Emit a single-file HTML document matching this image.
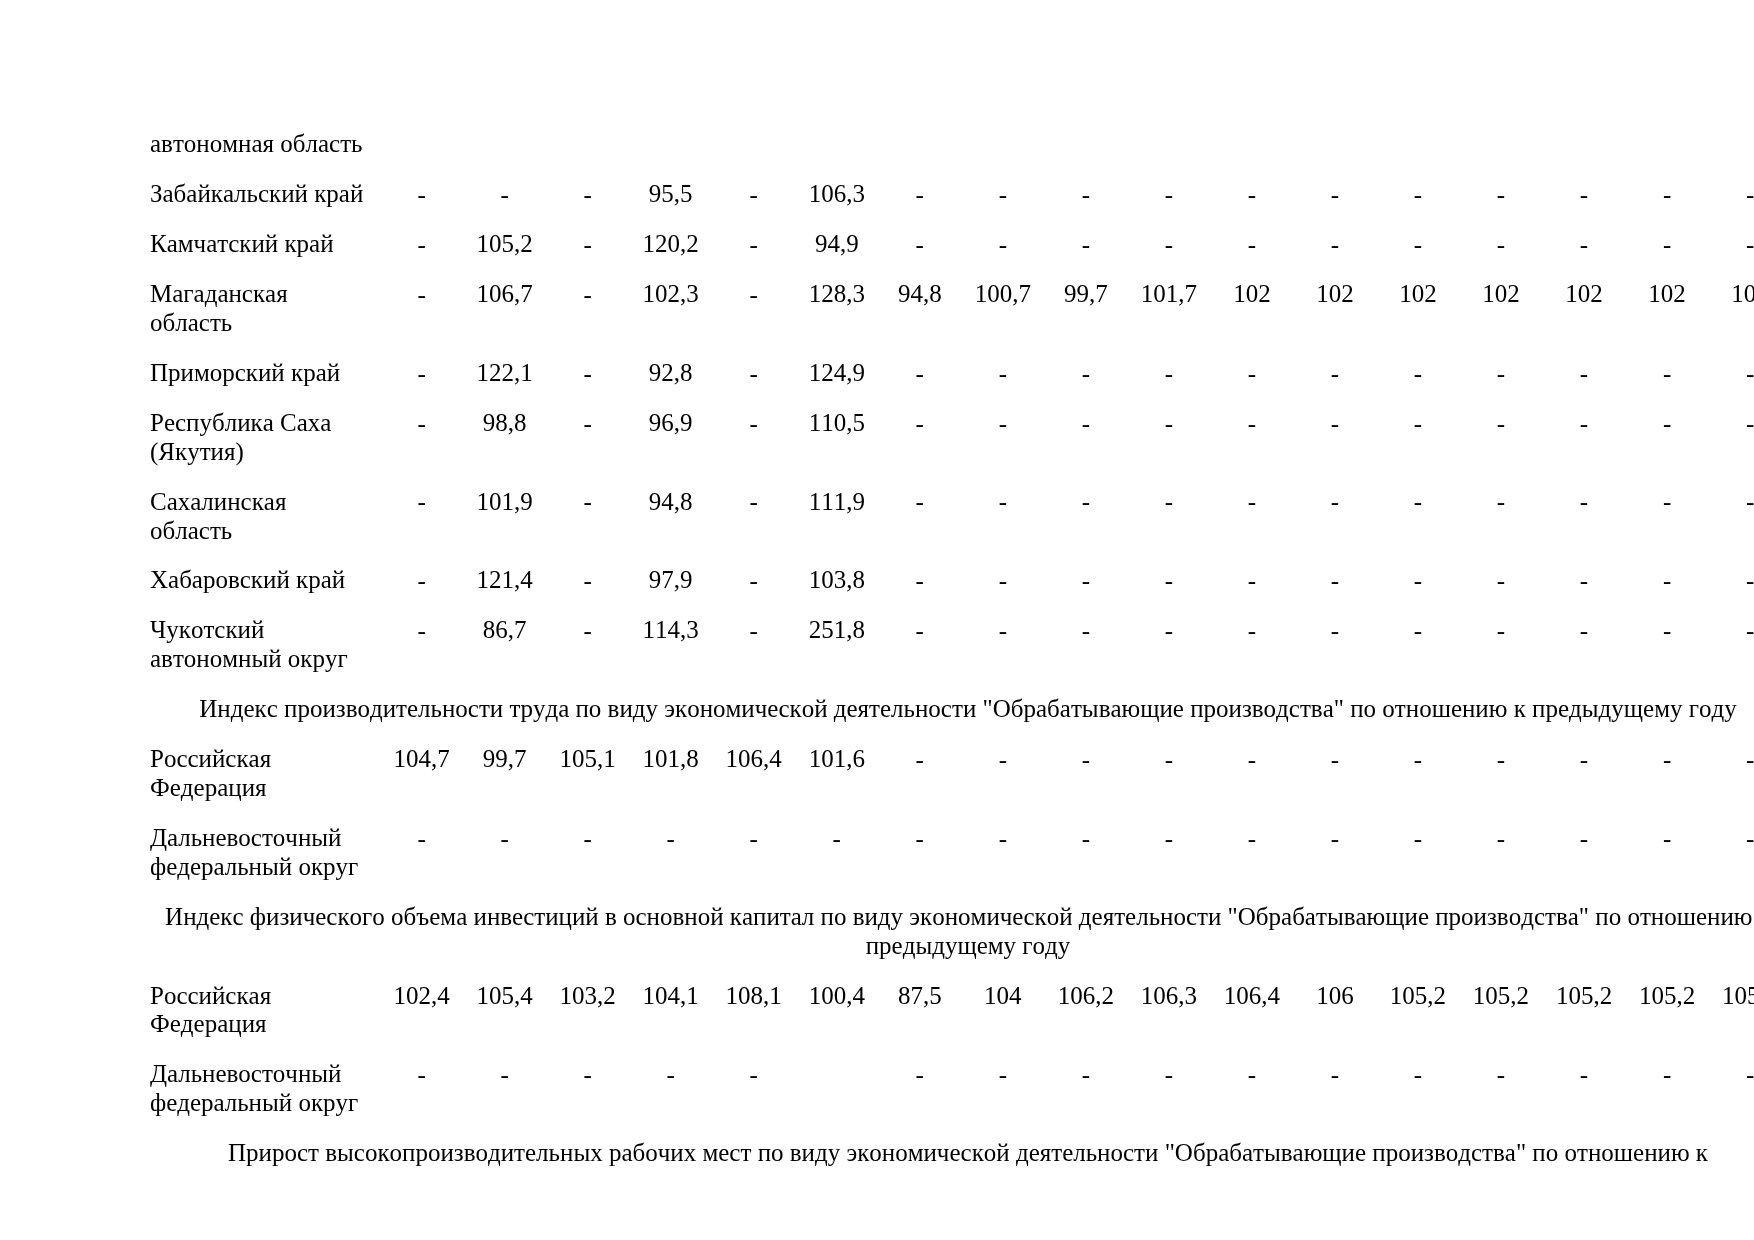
<!DOCTYPE html>
<html><head><meta charset="utf-8"><style>
html,body{margin:0;padding:0;background:#fff;}
body{width:1754px;height:1240px;position:relative;overflow:hidden;}
#w{position:absolute;left:0;top:0;width:1754px;height:1240px;will-change:transform;}
.t{position:absolute;font-family:"Liberation Serif",serif;font-size:25px;line-height:28.9px;white-space:nowrap;color:#000;font-kerning:none;}
.c{text-align:center;width:100px;}
.h{text-align:center;width:2000px;}
</style></head><body><div id="w">
<div class="t" style="left:150.0px;top:130.29px">автономная область</div>
<div class="t" style="left:150.0px;top:180.21px">Забайкальский край</div>
<div class="t c" style="left:371.60px;top:181.01px">-</div>
<div class="t c" style="left:454.63px;top:181.01px">-</div>
<div class="t c" style="left:537.66px;top:181.01px">-</div>
<div class="t c" style="left:620.69px;top:180.21px">95,5</div>
<div class="t c" style="left:703.72px;top:181.01px">-</div>
<div class="t c" style="left:786.75px;top:180.21px">106,3</div>
<div class="t c" style="left:869.78px;top:181.01px">-</div>
<div class="t c" style="left:952.81px;top:181.01px">-</div>
<div class="t c" style="left:1035.84px;top:181.01px">-</div>
<div class="t c" style="left:1118.87px;top:181.01px">-</div>
<div class="t c" style="left:1201.90px;top:181.01px">-</div>
<div class="t c" style="left:1284.93px;top:181.01px">-</div>
<div class="t c" style="left:1367.96px;top:181.01px">-</div>
<div class="t c" style="left:1450.99px;top:181.01px">-</div>
<div class="t c" style="left:1534.02px;top:181.01px">-</div>
<div class="t c" style="left:1617.05px;top:181.01px">-</div>
<div class="t c" style="left:1700.08px;top:181.01px">-</div>
<div class="t" style="left:150.0px;top:230.13px">Камчатский край</div>
<div class="t c" style="left:371.60px;top:230.93px">-</div>
<div class="t c" style="left:454.63px;top:230.13px">105,2</div>
<div class="t c" style="left:537.66px;top:230.93px">-</div>
<div class="t c" style="left:620.69px;top:230.13px">120,2</div>
<div class="t c" style="left:703.72px;top:230.93px">-</div>
<div class="t c" style="left:786.75px;top:230.13px">94,9</div>
<div class="t c" style="left:869.78px;top:230.93px">-</div>
<div class="t c" style="left:952.81px;top:230.93px">-</div>
<div class="t c" style="left:1035.84px;top:230.93px">-</div>
<div class="t c" style="left:1118.87px;top:230.93px">-</div>
<div class="t c" style="left:1201.90px;top:230.93px">-</div>
<div class="t c" style="left:1284.93px;top:230.93px">-</div>
<div class="t c" style="left:1367.96px;top:230.93px">-</div>
<div class="t c" style="left:1450.99px;top:230.93px">-</div>
<div class="t c" style="left:1534.02px;top:230.93px">-</div>
<div class="t c" style="left:1617.05px;top:230.93px">-</div>
<div class="t c" style="left:1700.08px;top:230.93px">-</div>
<div class="t" style="left:150.0px;top:280.05px">Магаданская</div>
<div class="t" style="left:150.0px;top:308.95px">область</div>
<div class="t c" style="left:371.60px;top:280.85px">-</div>
<div class="t c" style="left:454.63px;top:280.05px">106,7</div>
<div class="t c" style="left:537.66px;top:280.85px">-</div>
<div class="t c" style="left:620.69px;top:280.05px">102,3</div>
<div class="t c" style="left:703.72px;top:280.85px">-</div>
<div class="t c" style="left:786.75px;top:280.05px">128,3</div>
<div class="t c" style="left:869.78px;top:280.05px">94,8</div>
<div class="t c" style="left:952.81px;top:280.05px">100,7</div>
<div class="t c" style="left:1035.84px;top:280.05px">99,7</div>
<div class="t c" style="left:1118.87px;top:280.05px">101,7</div>
<div class="t c" style="left:1201.90px;top:280.05px">102</div>
<div class="t c" style="left:1284.93px;top:280.05px">102</div>
<div class="t c" style="left:1367.96px;top:280.05px">102</div>
<div class="t c" style="left:1450.99px;top:280.05px">102</div>
<div class="t c" style="left:1534.02px;top:280.05px">102</div>
<div class="t c" style="left:1617.05px;top:280.05px">102</div>
<div class="t c" style="left:1700.08px;top:280.05px">102</div>
<div class="t" style="left:150.0px;top:358.87px">Приморский край</div>
<div class="t c" style="left:371.60px;top:359.67px">-</div>
<div class="t c" style="left:454.63px;top:358.87px">122,1</div>
<div class="t c" style="left:537.66px;top:359.67px">-</div>
<div class="t c" style="left:620.69px;top:358.87px">92,8</div>
<div class="t c" style="left:703.72px;top:359.67px">-</div>
<div class="t c" style="left:786.75px;top:358.87px">124,9</div>
<div class="t c" style="left:869.78px;top:359.67px">-</div>
<div class="t c" style="left:952.81px;top:359.67px">-</div>
<div class="t c" style="left:1035.84px;top:359.67px">-</div>
<div class="t c" style="left:1118.87px;top:359.67px">-</div>
<div class="t c" style="left:1201.90px;top:359.67px">-</div>
<div class="t c" style="left:1284.93px;top:359.67px">-</div>
<div class="t c" style="left:1367.96px;top:359.67px">-</div>
<div class="t c" style="left:1450.99px;top:359.67px">-</div>
<div class="t c" style="left:1534.02px;top:359.67px">-</div>
<div class="t c" style="left:1617.05px;top:359.67px">-</div>
<div class="t c" style="left:1700.08px;top:359.67px">-</div>
<div class="t" style="left:150.0px;top:408.79px">Республика Саха</div>
<div class="t" style="left:150.0px;top:437.69px">(Якутия)</div>
<div class="t c" style="left:371.60px;top:409.59px">-</div>
<div class="t c" style="left:454.63px;top:408.79px">98,8</div>
<div class="t c" style="left:537.66px;top:409.59px">-</div>
<div class="t c" style="left:620.69px;top:408.79px">96,9</div>
<div class="t c" style="left:703.72px;top:409.59px">-</div>
<div class="t c" style="left:786.75px;top:408.79px">110,5</div>
<div class="t c" style="left:869.78px;top:409.59px">-</div>
<div class="t c" style="left:952.81px;top:409.59px">-</div>
<div class="t c" style="left:1035.84px;top:409.59px">-</div>
<div class="t c" style="left:1118.87px;top:409.59px">-</div>
<div class="t c" style="left:1201.90px;top:409.59px">-</div>
<div class="t c" style="left:1284.93px;top:409.59px">-</div>
<div class="t c" style="left:1367.96px;top:409.59px">-</div>
<div class="t c" style="left:1450.99px;top:409.59px">-</div>
<div class="t c" style="left:1534.02px;top:409.59px">-</div>
<div class="t c" style="left:1617.05px;top:409.59px">-</div>
<div class="t c" style="left:1700.08px;top:409.59px">-</div>
<div class="t" style="left:150.0px;top:487.61px">Сахалинская</div>
<div class="t" style="left:150.0px;top:516.51px">область</div>
<div class="t c" style="left:371.60px;top:488.41px">-</div>
<div class="t c" style="left:454.63px;top:487.61px">101,9</div>
<div class="t c" style="left:537.66px;top:488.41px">-</div>
<div class="t c" style="left:620.69px;top:487.61px">94,8</div>
<div class="t c" style="left:703.72px;top:488.41px">-</div>
<div class="t c" style="left:786.75px;top:487.61px">111,9</div>
<div class="t c" style="left:869.78px;top:488.41px">-</div>
<div class="t c" style="left:952.81px;top:488.41px">-</div>
<div class="t c" style="left:1035.84px;top:488.41px">-</div>
<div class="t c" style="left:1118.87px;top:488.41px">-</div>
<div class="t c" style="left:1201.90px;top:488.41px">-</div>
<div class="t c" style="left:1284.93px;top:488.41px">-</div>
<div class="t c" style="left:1367.96px;top:488.41px">-</div>
<div class="t c" style="left:1450.99px;top:488.41px">-</div>
<div class="t c" style="left:1534.02px;top:488.41px">-</div>
<div class="t c" style="left:1617.05px;top:488.41px">-</div>
<div class="t c" style="left:1700.08px;top:488.41px">-</div>
<div class="t" style="left:150.0px;top:566.43px">Хабаровский край</div>
<div class="t c" style="left:371.60px;top:567.23px">-</div>
<div class="t c" style="left:454.63px;top:566.43px">121,4</div>
<div class="t c" style="left:537.66px;top:567.23px">-</div>
<div class="t c" style="left:620.69px;top:566.43px">97,9</div>
<div class="t c" style="left:703.72px;top:567.23px">-</div>
<div class="t c" style="left:786.75px;top:566.43px">103,8</div>
<div class="t c" style="left:869.78px;top:567.23px">-</div>
<div class="t c" style="left:952.81px;top:567.23px">-</div>
<div class="t c" style="left:1035.84px;top:567.23px">-</div>
<div class="t c" style="left:1118.87px;top:567.23px">-</div>
<div class="t c" style="left:1201.90px;top:567.23px">-</div>
<div class="t c" style="left:1284.93px;top:567.23px">-</div>
<div class="t c" style="left:1367.96px;top:567.23px">-</div>
<div class="t c" style="left:1450.99px;top:567.23px">-</div>
<div class="t c" style="left:1534.02px;top:567.23px">-</div>
<div class="t c" style="left:1617.05px;top:567.23px">-</div>
<div class="t c" style="left:1700.08px;top:567.23px">-</div>
<div class="t" style="left:150.0px;top:616.35px">Чукотский</div>
<div class="t" style="left:150.0px;top:645.25px">автономный округ</div>
<div class="t c" style="left:371.60px;top:617.15px">-</div>
<div class="t c" style="left:454.63px;top:616.35px">86,7</div>
<div class="t c" style="left:537.66px;top:617.15px">-</div>
<div class="t c" style="left:620.69px;top:616.35px">114,3</div>
<div class="t c" style="left:703.72px;top:617.15px">-</div>
<div class="t c" style="left:786.75px;top:616.35px">251,8</div>
<div class="t c" style="left:869.78px;top:617.15px">-</div>
<div class="t c" style="left:952.81px;top:617.15px">-</div>
<div class="t c" style="left:1035.84px;top:617.15px">-</div>
<div class="t c" style="left:1118.87px;top:617.15px">-</div>
<div class="t c" style="left:1201.90px;top:617.15px">-</div>
<div class="t c" style="left:1284.93px;top:617.15px">-</div>
<div class="t c" style="left:1367.96px;top:617.15px">-</div>
<div class="t c" style="left:1450.99px;top:617.15px">-</div>
<div class="t c" style="left:1534.02px;top:617.15px">-</div>
<div class="t c" style="left:1617.05px;top:617.15px">-</div>
<div class="t c" style="left:1700.08px;top:617.15px">-</div>
<div class="t h" style="left:-32.00px;top:695.17px">Индекс производительности труда по виду экономической деятельности "Обрабатывающие производства" по отношению к предыдущему году</div>
<div class="t" style="left:150.0px;top:745.09px">Российская</div>
<div class="t" style="left:150.0px;top:773.99px">Федерация</div>
<div class="t c" style="left:371.60px;top:745.09px">104,7</div>
<div class="t c" style="left:454.63px;top:745.09px">99,7</div>
<div class="t c" style="left:537.66px;top:745.09px">105,1</div>
<div class="t c" style="left:620.69px;top:745.09px">101,8</div>
<div class="t c" style="left:703.72px;top:745.09px">106,4</div>
<div class="t c" style="left:786.75px;top:745.09px">101,6</div>
<div class="t c" style="left:869.78px;top:745.89px">-</div>
<div class="t c" style="left:952.81px;top:745.89px">-</div>
<div class="t c" style="left:1035.84px;top:745.89px">-</div>
<div class="t c" style="left:1118.87px;top:745.89px">-</div>
<div class="t c" style="left:1201.90px;top:745.89px">-</div>
<div class="t c" style="left:1284.93px;top:745.89px">-</div>
<div class="t c" style="left:1367.96px;top:745.89px">-</div>
<div class="t c" style="left:1450.99px;top:745.89px">-</div>
<div class="t c" style="left:1534.02px;top:745.89px">-</div>
<div class="t c" style="left:1617.05px;top:745.89px">-</div>
<div class="t c" style="left:1700.08px;top:745.89px">-</div>
<div class="t" style="left:150.0px;top:823.91px">Дальневосточный</div>
<div class="t" style="left:150.0px;top:852.81px">федеральный округ</div>
<div class="t c" style="left:371.60px;top:824.71px">-</div>
<div class="t c" style="left:454.63px;top:824.71px">-</div>
<div class="t c" style="left:537.66px;top:824.71px">-</div>
<div class="t c" style="left:620.69px;top:824.71px">-</div>
<div class="t c" style="left:703.72px;top:824.71px">-</div>
<div class="t c" style="left:786.75px;top:824.71px">-</div>
<div class="t c" style="left:869.78px;top:824.71px">-</div>
<div class="t c" style="left:952.81px;top:824.71px">-</div>
<div class="t c" style="left:1035.84px;top:824.71px">-</div>
<div class="t c" style="left:1118.87px;top:824.71px">-</div>
<div class="t c" style="left:1201.90px;top:824.71px">-</div>
<div class="t c" style="left:1284.93px;top:824.71px">-</div>
<div class="t c" style="left:1367.96px;top:824.71px">-</div>
<div class="t c" style="left:1450.99px;top:824.71px">-</div>
<div class="t c" style="left:1534.02px;top:824.71px">-</div>
<div class="t c" style="left:1617.05px;top:824.71px">-</div>
<div class="t c" style="left:1700.08px;top:824.71px">-</div>
<div class="t h" style="left:-32.00px;top:902.73px">Индекс физического объема инвестиций в основной капитал по виду экономической деятельности "Обрабатывающие производства" по отношению к</div>
<div class="t h" style="left:-32.00px;top:931.63px">предыдущему году</div>
<div class="t" style="left:150.0px;top:981.55px">Российская</div>
<div class="t" style="left:150.0px;top:1010.45px">Федерация</div>
<div class="t c" style="left:371.60px;top:981.55px">102,4</div>
<div class="t c" style="left:454.63px;top:981.55px">105,4</div>
<div class="t c" style="left:537.66px;top:981.55px">103,2</div>
<div class="t c" style="left:620.69px;top:981.55px">104,1</div>
<div class="t c" style="left:703.72px;top:981.55px">108,1</div>
<div class="t c" style="left:786.75px;top:981.55px">100,4</div>
<div class="t c" style="left:869.78px;top:981.55px">87,5</div>
<div class="t c" style="left:952.81px;top:981.55px">104</div>
<div class="t c" style="left:1035.84px;top:981.55px">106,2</div>
<div class="t c" style="left:1118.87px;top:981.55px">106,3</div>
<div class="t c" style="left:1201.90px;top:981.55px">106,4</div>
<div class="t c" style="left:1284.93px;top:981.55px">106</div>
<div class="t c" style="left:1367.96px;top:981.55px">105,2</div>
<div class="t c" style="left:1450.99px;top:981.55px">105,2</div>
<div class="t c" style="left:1534.02px;top:981.55px">105,2</div>
<div class="t c" style="left:1617.05px;top:981.55px">105,2</div>
<div class="t c" style="left:1700.08px;top:981.55px">105,2</div>
<div class="t" style="left:150.0px;top:1060.37px">Дальневосточный</div>
<div class="t" style="left:150.0px;top:1089.27px">федеральный округ</div>
<div class="t c" style="left:371.60px;top:1061.17px">-</div>
<div class="t c" style="left:454.63px;top:1061.17px">-</div>
<div class="t c" style="left:537.66px;top:1061.17px">-</div>
<div class="t c" style="left:620.69px;top:1061.17px">-</div>
<div class="t c" style="left:703.72px;top:1061.17px">-</div>
<div class="t c" style="left:869.78px;top:1061.17px">-</div>
<div class="t c" style="left:952.81px;top:1061.17px">-</div>
<div class="t c" style="left:1035.84px;top:1061.17px">-</div>
<div class="t c" style="left:1118.87px;top:1061.17px">-</div>
<div class="t c" style="left:1201.90px;top:1061.17px">-</div>
<div class="t c" style="left:1284.93px;top:1061.17px">-</div>
<div class="t c" style="left:1367.96px;top:1061.17px">-</div>
<div class="t c" style="left:1450.99px;top:1061.17px">-</div>
<div class="t c" style="left:1534.02px;top:1061.17px">-</div>
<div class="t c" style="left:1617.05px;top:1061.17px">-</div>
<div class="t c" style="left:1700.08px;top:1061.17px">-</div>
<div class="t h" style="left:-32.00px;top:1139.19px">Прирост высокопроизводительных рабочих мест по виду экономической деятельности "Обрабатывающие производства" по отношению к</div>
</div></body></html>
